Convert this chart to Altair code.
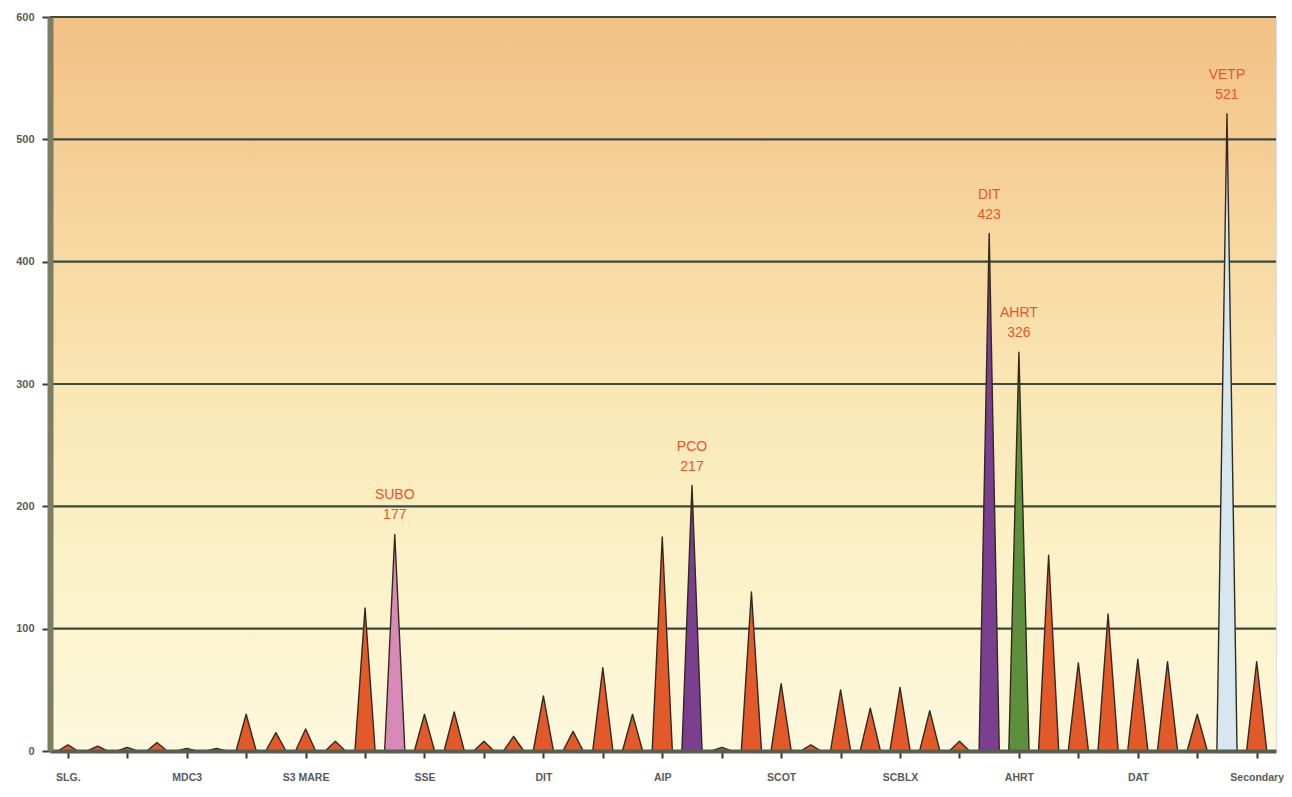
import altair as alt
import pandas as pd

# ---- data ----
tick_labels = ["SLG.", "MDC3", "S3 MARE", "SSE", "DIT", "AIP", "SCOT", "SCBLX", "AHRT", "DAT", "Secondary"]
values = [5, 4, 3, 7, 2, 2, 30, 15, 18, 8,
          117, 177, 30, 32, 8, 12, 45, 16, 68, 30,
          175, 217, 3, 130, 55, 5, 50, 35, 52, 33,
          8, 423, 326, 160, 72, 112, 75, 73, 30, 521, 73]
highlight_idx = [11, 21, 31, 32, 39]
highlight_names = ["SUBO", "PCO", "DIT", "AHRT", "VETP"]
highlight_colors = ["#d88ab6", "#7a3f8e", "#7a3f8e", "#5e8f3c", "#d6e7f0"]
grid_values = [100, 200, 300, 400, 500, 600]

BASE = "#e25a2a"
HALF = 0.34
W, H = 1226, 734

rows = []
for i, v in enumerate(values):
    col = BASE
    if i in highlight_idx:
        col = highlight_colors[highlight_idx.index(i)]
    for k, (dx, yy) in enumerate([(-HALF, 0), (0, v), (HALF, 0)]):
        rows.append({"peak": i, "k": k, "x": i + dx, "y": yy, "c": col})
cones = pd.DataFrame(rows)

ann = pd.DataFrame({
    "x": highlight_idx,
    "y": [values[i] for i in highlight_idx],
    "name": highlight_names,
})
ann["val"] = ann["y"].astype(str)

grid = pd.DataFrame({"g": grid_values})

label_map = "{" + ",".join(f"'{k*4}':'{n}'" for k, n in enumerate(tick_labels)) + "}"

xscale = alt.Scale(domain=[-0.6, 40.65], nice=False, zero=False)
yscale = alt.Scale(domain=[0, 600], nice=False)

xaxis = alt.Axis(values=list(range(41)), labelExpr=f"{label_map}[datum.value] || ''",
                 title=None, grid=False, tickSize=7, tickColor="#2f3b3a", tickWidth=2,
                 domainColor="#55604f", domainWidth=4, labelPadding=14,
                 labelFont="Liberation Sans", labelFontSize=10.5, labelFontWeight="bold",
                 labelColor="#5a5a5a", labelOverlap=False, labelBound=False, zindex=1)
yaxis = alt.Axis(values=[0, 100, 200, 300, 400, 500, 600], title=None, grid=False,
                 tickSize=8, tickColor="#3a3a3a", tickWidth=2,
                 domainColor="#7d7d62", domainWidth=6, labelPadding=8,
                 labelFont="Liberation Sans", labelFontSize=11, labelFontWeight="bold",
                 labelColor="#5a5a5a", zindex=1)

bg = alt.Chart(pd.DataFrame({"a": [0]})).mark_rect(
    color=alt.Gradient(gradient="linear", x1=0, x2=0, y1=0, y2=1,
                       stops=[alt.GradientStop(offset=0, color="#f3c086"),
                              alt.GradientStop(offset=0.3, color="#f7d7a0"),
                              alt.GradientStop(offset=0.55, color="#fae9b8"),
                              alt.GradientStop(offset=0.8, color="#fcf3cc"),
                              alt.GradientStop(offset=1, color="#fdf8de")])
).encode(x=alt.value(0), x2=alt.value(W), y=alt.value(0), y2=alt.value(H))

rules = alt.Chart(grid).mark_rule(color="#3b4a40", strokeWidth=2.2).encode(
    y=alt.Y("g:Q", scale=yscale, axis=yaxis)
)

cone_layer = alt.Chart(cones).mark_line(
    stroke="#33291f", strokeWidth=1.4, strokeJoin="round", interpolate="linear-closed"
).encode(
    x=alt.X("x:Q", scale=xscale, axis=xaxis),
    y=alt.Y("y:Q", scale=yscale, axis=yaxis),
    detail="peak:N",
    fill=alt.Fill("c:N", scale=None),
    order=alt.Order("k:Q"),
)

name_text = alt.Chart(ann).mark_text(
    color="#e8552a", fontSize=14, font="Liberation Sans", baseline="bottom", dy=-32
).encode(
    x=alt.X("x:Q", scale=xscale),
    y=alt.Y("y:Q", scale=yscale),
    text="name:N",
)
val_text = alt.Chart(ann).mark_text(
    color="#e8552a", fontSize=14, font="Liberation Sans", baseline="bottom", dy=-12
).encode(
    x=alt.X("x:Q", scale=xscale),
    y=alt.Y("y:Q", scale=yscale),
    text="val:N",
)

chart = alt.layer(bg, rules, cone_layer, name_text, val_text).properties(
    width=W, height=H,
    autosize=alt.AutoSizeParams(type="none"),
    padding={"left": 42, "top": 9, "right": 8, "bottom": 32},
).configure_view(stroke="#4a4a4a", strokeWidth=1.5).configure(background="white")

chart.save("out.html", embed_options={"renderer": "svg", "actions": False})
